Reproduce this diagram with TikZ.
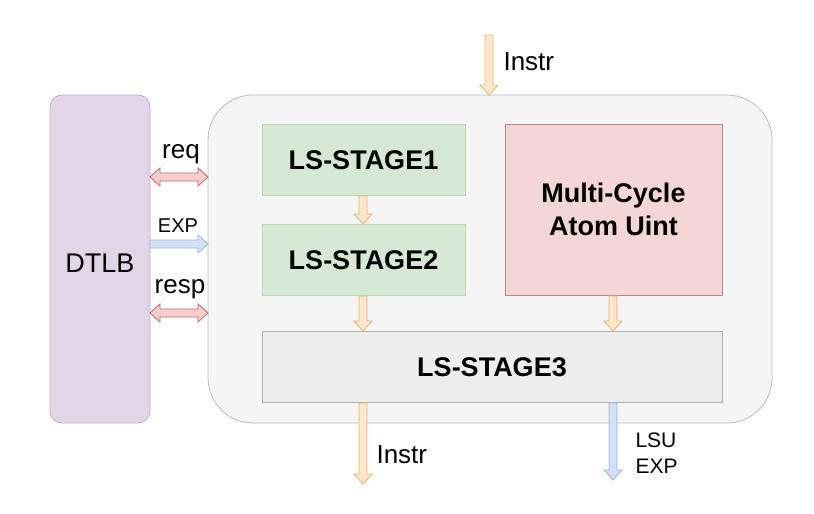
\documentclass[tikz,border=0pt]{standalone}
\usepackage{fontspec}
\setmainfont{Liberation Sans}
\begin{document}
\begin{tikzpicture}[x=1pt,y=-1pt,
  lbl/.style={font=\fontsize{26}{30}\selectfont},
  btitle/.style={font=\bfseries\fontsize{27}{32}\selectfont, align=center}]
\definecolor{dtlbfill}{HTML}{E1D5E7}\definecolor{dtlbline}{HTML}{C3ABD0}
\definecolor{grpfill}{HTML}{F5F5F5}\definecolor{grpline}{HTML}{BDBDBD}
\definecolor{gfill}{HTML}{D5E8D4}\definecolor{gline}{HTML}{B9D8AE}
\definecolor{rfill}{HTML}{F5D6D6}\definecolor{rline}{HTML}{B88888}
\definecolor{s3fill}{HTML}{EEEEEE}\definecolor{s3line}{HTML}{B0B0B0}
\definecolor{yfill}{HTML}{FFE6CC}\definecolor{yline}{HTML}{DDBB66}
\definecolor{bfill}{HTML}{D4E1F5}\definecolor{bline}{HTML}{9DB6DD}
\definecolor{redfill}{HTML}{F8CECC}\definecolor{redline}{HTML}{C06A66}
\tikzset{yel/.style={fill=yfill, draw=yline, line width=0.8pt},
  blu/.style={fill=bfill, draw=bline, line width=0.8pt},
  red/.style={fill=redfill, draw=redline, line width=0.8pt}}
\newcommand\darrow[4]{% style, x, y1, y2
  \filldraw[#1] (#2-4,#3) -- (#2+4,#3) -- (#2+4,#4-10) -- (#2+9,#4-10) -- (#2,#4) -- (#2-9,#4-10) -- (#2-4,#4-10) -- cycle;}
\newcommand\rarrow[4]{% style, y, x1, x2
  \filldraw[#1] (#3,#2-4) -- (#4-10,#2-4) -- (#4-10,#2-9) -- (#4,#2) -- (#4-10,#2+9) -- (#4-10,#2+4) -- (#3,#2+4) -- cycle;}
\newcommand\dblarrow[4]{% style, y, x1, x2
  \filldraw[#1] (#3,#2) -- (#3+10,#2-9) -- (#3+10,#2-4) -- (#4-10,#2-4) -- (#4-10,#2-9) -- (#4,#2) -- (#4-10,#2+9) -- (#4-10,#2+4) -- (#3+10,#2+4) -- (#3+10,#2+9) -- cycle;}
\useasboundingbox (0,0) rectangle (814,514);
\fill[white] (0,0) rectangle (814,514);
% DTLB
\draw[fill=dtlbfill, draw=dtlbline, line width=0.8pt, rounded corners=12pt] (50,95) rectangle (150,423);
\node[font=\fontsize{27}{30}\selectfont] (dtlb) at (100,263) {DTLB};
% Container
\draw[fill=grpfill, draw=grpline, line width=0.8pt, rounded corners=45pt] (208,95) rectangle (772,423);
% Stages
\draw[fill=gfill, draw=gline, line width=0.8pt] (262,124) rectangle (465,195);
\node[btitle] (s1) at (363.5,160) {LS-STAGE1};
\draw[fill=gfill, draw=gline, line width=0.8pt] (262,224) rectangle (465,295);
\node[btitle] (s2) at (363.5,260) {LS-STAGE2};
\draw[fill=rfill, draw=rline, line width=0.8pt] (505,124) rectangle (722,295);
\node[btitle, font=\bfseries\fontsize{27}{33}\selectfont] (mc) at (613.5,209.5) {Multi-Cycle\\Atom Uint};
\draw[fill=s3fill, draw=s3line, line width=0.8pt] (262,331) rectangle (722,402);
\node[btitle] (s3) at (492,367) {LS-STAGE3};
% Arrows
\darrow{yel}{489}{35}{95}
\node[lbl, anchor=west] (instrin) at (500,62) {Instr};
\darrow{yel}{363}{196}{224}
\darrow{yel}{363}{296}{331}
\darrow{yel}{613}{296}{331}
\darrow{yel}{363}{403}{484}
\node[lbl, anchor=west] (instrout) at (373,455) {Instr};
\darrow{blu}{613}{403}{480}
\node[anchor=west, align=left, font=\fontsize{21}{26}\selectfont] (lsuexp) at (632,453) {LSU\\EXP};
% Left side
\dblarrow{red}{177}{150}{208}
\node[lbl] (req) at (181,154) {req};
\rarrow{blu}{244}{150}{208}
\node[font=\fontsize{20}{24}\selectfont] (exp) at (178,226) {EXP};
\dblarrow{red}{313}{150}{208}
\node[lbl] (resp) at (180,289) {resp};
\end{tikzpicture}
\end{document}
